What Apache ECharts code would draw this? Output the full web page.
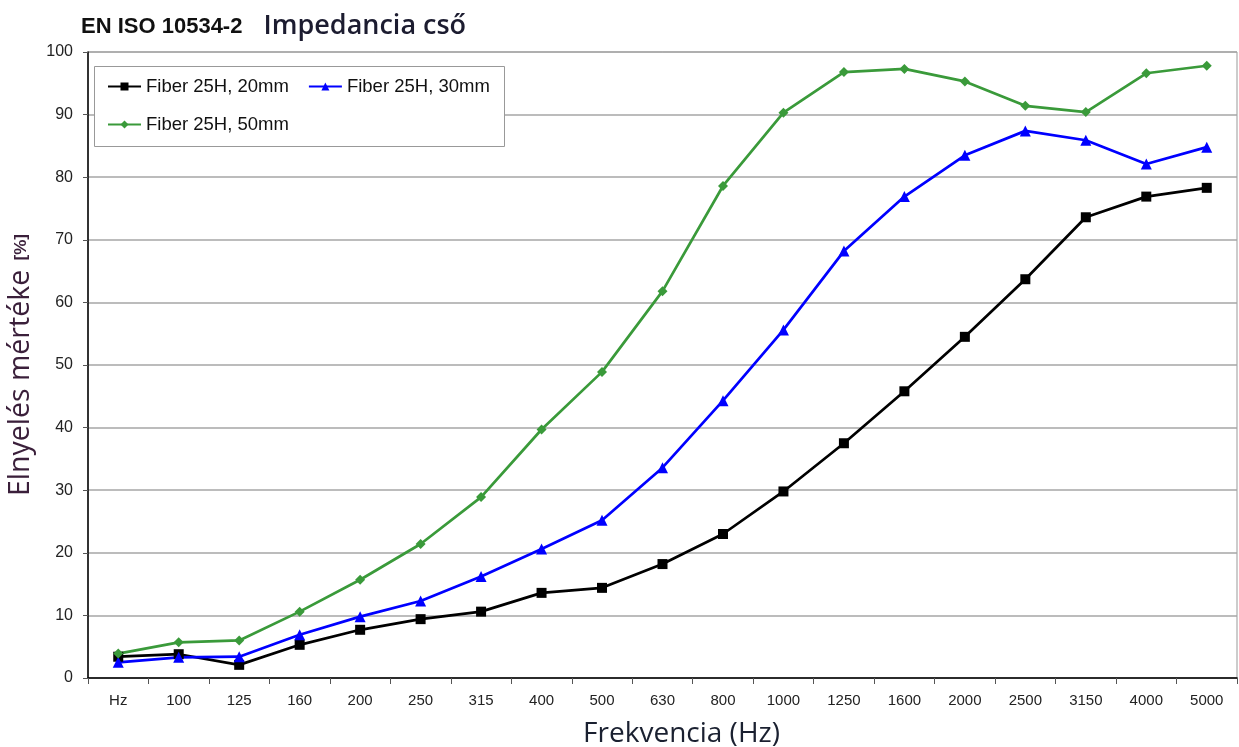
<!DOCTYPE html>
<html>
<head>
<meta charset="utf-8">
<script src="https://cdn.jsdelivr.net/npm/echarts@6/dist/echarts.min.js"></script>
<style>
html,body{margin:0;padding:0;background:#fff;}
#chart{width:1239px;height:747px;}
</style>
</head>
<body>
<div id="chart"></div>
<script>
const categories = ['Hz','100','125','160','200','250','315','400','500','630','800','1000','1250','1600','2000','2500','3150','4000','5000'];
const seriesNames = ['Fiber 25H, 20mm','Fiber 25H, 30mm','Fiber 25H, 50mm'];
const fiber20 = [3.4, 3.8, 2.1, 5.3, 7.7, 9.4, 10.6, 13.6, 14.4, 18.2, 23.0, 29.8, 37.5, 45.8, 54.5, 63.7, 73.6, 76.9, 78.3];
const fiber30 = [2.5, 3.3, 3.4, 6.9, 9.8, 12.3, 16.2, 20.6, 25.2, 33.6, 44.3, 55.6, 68.2, 76.9, 83.5, 87.4, 85.9, 82.1, 84.8];
const fiber50 = [3.9, 5.7, 6.0, 10.6, 15.7, 21.4, 28.9, 39.7, 48.9, 61.8, 78.6, 90.3, 96.8, 97.3, 95.3, 91.4, 90.4, 96.6, 97.8];
const yTicks = {min: 0, max: 100, interval: 10};

const chart = echarts.init(document.getElementById('chart'));
const labelFont = 'Liberation Sans, Arial, sans-serif';
chart.setOption({
  backgroundColor: '#fff',
  animation: false,
  title: {
    left: 76, top: 8,
    text: '{a|EN ISO 10534-2}{b|   Impedancia cső}',
    textStyle: {
      fontWeight: 'normal',
      rich: {
        a: {fontFamily: labelFont, fontSize: 22, fontWeight: 'bold', color: '#111', letterSpacing: -1.3},
        b: {fontFamily: 'Open Sans, sans-serif', fontSize: 27, fontWeight: 600, color: '#1c1c30'}
      }
    }
  },
  graphic: [{
    type: 'rect', z: 3,
    shape: {x: 94.5, y: 66.5, width: 410, height: 80},
    style: {fill: '#fff', stroke: '#999', lineWidth: 1}
  }],
  legend: {
    left: 94, top: 65, z: 5,
    width: 405,
    padding: [12, 13, 10, 13],
    itemGap: 19,
    itemWidth: 33, itemHeight: 10,
    data: seriesNames,
    textStyle: {fontFamily: labelFont, fontSize: 18.5, color: '#111'}
  },
  grid: {
    left: 88, right: 2, top: 52, bottom: 69,
    outerBoundsMode: 'none',
    containLabel: false,
    show: true, borderColor: '#999', borderWidth: 1
  },
  xAxis: {
    type: 'category',
    data: categories,
    boundaryGap: true,
    name: 'Frekvencia (Hz)',
    nameLocation: 'middle',
    nameGap: 42,
    nameTextStyle: {fontFamily: 'Open Sans, sans-serif', fontSize: 28, color: '#1a2030', padding: [0, 0, 0, 38]},
    axisLine: {lineStyle: {color: '#000', width: 1.5}},
    axisTick: {show: true, alignWithLabel: false, length: 6, lineStyle: {color: '#555'}},
    axisLabel: {fontFamily: labelFont, fontSize: 15, color: '#222', margin: 15},
    splitLine: {show: false}
  },
  yAxis: {
    type: 'value',
    min: yTicks.min, max: yTicks.max, interval: yTicks.interval,
    name: '{t|Elnyelés mértéke}{p|  [%]}',
    nameLocation: 'middle',
    nameGap: 46,
    nameRotate: 90,
    nameTextStyle: {
      rich: {
        t: {fontFamily: 'Open Sans, sans-serif', fontSize: 28.5, color: '#3a1f3a'},
        p: {fontFamily: labelFont, fontSize: 17, fontWeight: 'bold', color: '#3a1f3a'}
      }
    },
    axisLine: {show: true, lineStyle: {color: '#000', width: 1.5}},
    axisTick: {show: true, length: 5, lineStyle: {color: '#555'}},
    axisLabel: {fontFamily: labelFont, fontSize: 16, color: '#222', margin: 15},
    splitLine: {show: true, lineStyle: {color: '#a6a6a6', width: 1.5}}
  },
  series: [
    {
      name: seriesNames[0], type: 'line', data: fiber20,
      symbol: 'rect', symbolSize: 10,
      itemStyle: {color: '#000'},
      lineStyle: {color: '#000', width: 2.7}
    },
    {
      name: seriesNames[1], type: 'line', data: fiber30,
      symbol: 'triangle', symbolSize: 11,
      itemStyle: {color: '#0000ff'},
      lineStyle: {color: '#0000ff', width: 2.7}
    },
    {
      name: seriesNames[2], type: 'line', data: fiber50,
      symbol: 'diamond', symbolSize: 10,
      itemStyle: {color: '#3a9a3a'},
      lineStyle: {color: '#3a9a3a', width: 2.7}
    }
  ]
});
</script>
</body>
</html>
